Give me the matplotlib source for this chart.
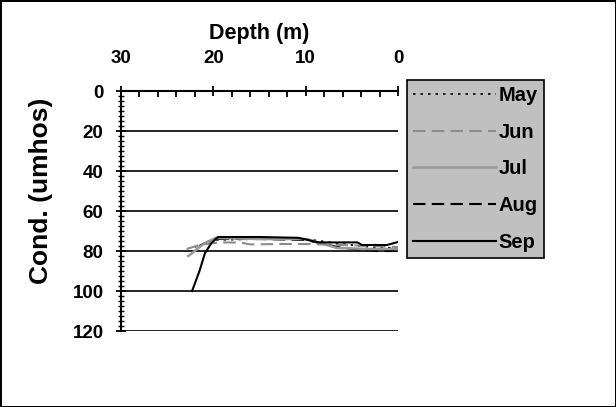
import numpy as np
import matplotlib.pyplot as plt
from matplotlib.ticker import MultipleLocator

plt.rcParams['font.family'] = ['Liberation Sans', 'DejaVu Sans']
plt.rcParams['font.weight'] = 'bold'

# 深度 (m) 与电导率 (umhos)
may_depth = [22.0, 20.0, 15.0, 10.0, 6.0, 3.0, 0.0]
may_cond = [78.0, 74.5, 74.0, 74.0, 76.5, 78.0, 78.5]

jun_depth = [22.9, 21.5, 20.0, 18.5, 17.0, 16.0, 13.0, 10.0, 6.0, 3.0, 0.0]
jun_cond = [79.0, 77.0, 76.0, 75.7, 75.8, 76.7, 76.5, 76.5, 77.0, 77.5, 78.0]

jul_depth = [22.7, 21.2, 19.8, 15.0, 10.0, 9.5, 6.6, 3.0, 0.0]
jul_cond = [82.5, 77.0, 73.5, 74.0, 74.0, 74.5, 78.5, 79.0, 79.0]

aug_depth = [21.5, 20.0, 15.0, 10.0, 6.0, 2.3, 0.0]
aug_cond = [77.5, 74.0, 74.0, 74.5, 78.5, 80.0, 80.0]

sep_depth = [22.3, 21.5, 20.9, 20.2, 19.5, 15.0, 10.8, 8.6, 4.4, 3.9, 1.2, 0.0]
sep_cond = [100.0, 90.0, 81.0, 76.0, 73.0, 73.0, 73.4, 75.7, 75.7, 77.0, 77.0, 75.5]

fig = plt.figure(figsize=(6.16, 4.07), dpi=100)
fig.patch.set_edgecolor('black')
fig.patch.set_linewidth(2)

ax = fig.add_axes([0.1964, 0.1867, 0.4497, 0.5897])

ax.plot(may_depth, may_cond, color='black', ls=(0, (1.5, 3)), lw=1.2, label='May')
ax.plot(aug_depth, aug_cond, color='black', ls=(0, (6, 3)), lw=1.5, label='Aug')
ax.plot(jul_depth, jul_cond, color='#999999', ls='-', lw=1.8, label='Jul')
ax.plot(jun_depth, jun_cond, color='#8c8c8c', ls=(0, (6, 3)), lw=1.5, label='Jun')
ax.plot(sep_depth, sep_cond, color='black', ls='-', lw=1.5, label='Sep')

ax.set_xlim(30, 0)
ax.set_ylim(120, 0)

for yv in range(20, 121, 20):
    ax.axhline(yv, color='black', lw=1.2, zorder=0)

for s in ['right', 'bottom']:
    ax.spines[s].set_visible(False)
ax.spines['top'].set_linewidth(1.5)
ax.spines['left'].set_linewidth(1.5)

ax.xaxis.set_ticks_position('top')
ax.xaxis.set_label_position('top')
ax.xaxis.set_major_locator(MultipleLocator(10))
ax.xaxis.set_minor_locator(MultipleLocator(2))
ax.yaxis.set_major_locator(MultipleLocator(20))
ax.yaxis.set_minor_locator(MultipleLocator(2.5))

ax.tick_params(axis='x', which='major', direction='inout', length=7, width=1.3,
               pad=14, labelsize=13.5)
ax.tick_params(axis='x', which='minor', direction='in', length=4, width=1.3)
ax.tick_params(axis='y', which='major', direction='inout', length=7, width=1.3,
               pad=9, labelsize=13.5)
ax.tick_params(axis='y', which='minor', direction='inout', length=4, width=1.0)

ax.set_xlabel('Depth (m)', fontsize=15.5, fontweight='bold', labelpad=8)
ax.set_ylabel('Cond. (umhos)', fontsize=19, fontweight='bold')
ax.yaxis.set_label_coords(-0.245, 0.583)

lines = {l.get_label(): l for l in ax.get_lines()}
order = ['May', 'Jun', 'Jul', 'Aug', 'Sep']
leg = fig.legend([lines[k] for k in order], order,
                 loc='upper left', bbox_to_anchor=(407 / 616, 1 - 80 / 407),
                 frameon=True, fancybox=False, fontsize=14.5,
                 handlelength=4.1, handletextpad=0.15, labelspacing=0.88,
                 borderpad=0.3, borderaxespad=0, markerfirst=True)
frame = leg.get_frame()
frame.set_facecolor('#c0c0c0')
frame.set_edgecolor('black')
frame.set_linewidth(1.2)
frame.set_alpha(1)

fig.savefig('out.png', dpi=100)
